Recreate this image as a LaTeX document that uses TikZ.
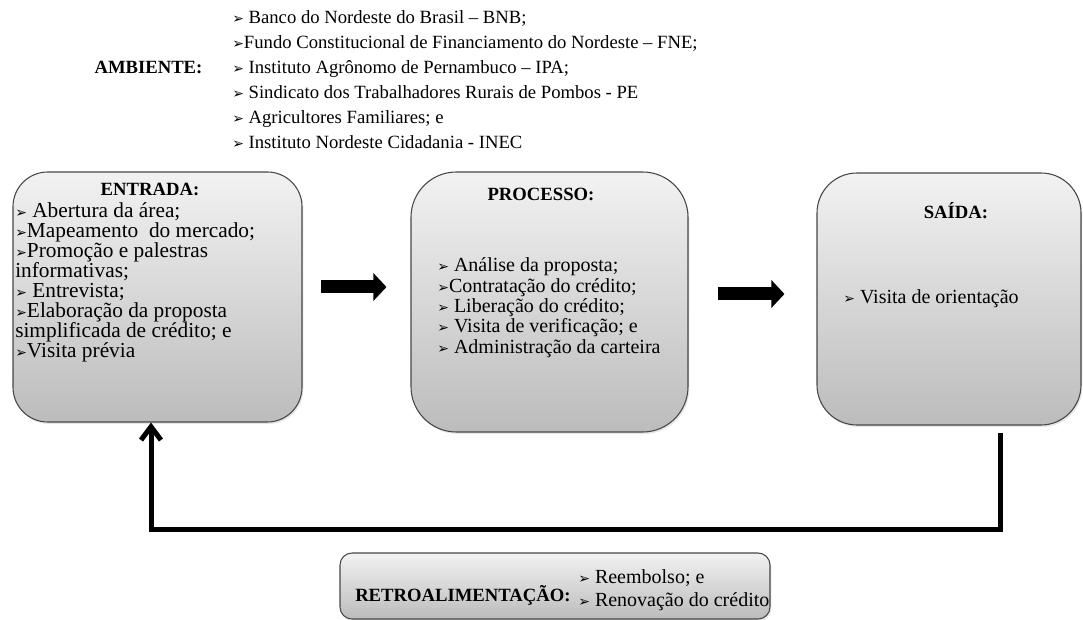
\documentclass[tikz,border=0pt]{standalone}
\usepackage{fontspec}
\setmainfont{Liberation Serif}
\newfontfamily\dejavu{DejaVu Sans}
\usetikzlibrary{arrows.meta,calc,positioning,shadows}

\definecolor{boxtop}{RGB}{242,242,242}
\definecolor{boxbot}{RGB}{188,188,188}
\definecolor{boxline}{RGB}{70,70,70}
\newcommand{\bul}{{\dejavu\fontsize{10.5pt}{10pt}\selectfont ➢}}

\begin{document}
\begin{tikzpicture}[x=0.75pt,y=-0.75pt,
  stagebox/.style={draw=boxline, line width=0.8pt, top color=boxtop, bottom color=boxbot,
    inner sep=0pt, drop shadow={opacity=0.2, shadow xshift=1pt, shadow yshift=-1.5pt}},
  stagetitle/.style={font=\fontsize{14pt}{16pt}\selectfont\bfseries, inner sep=0pt, anchor=base},
  stageitem/.style={font=\fontsize{15pt}{15pt}\selectfont, inner sep=0pt, anchor=base west},
  envitem/.style={font=\fontsize{14pt}{16pt}\selectfont, inner sep=0pt, anchor=base west},
  blockarrow/.style={line width=9.75pt, -{Triangle[length=9.75pt,width=20.25pt]}},
  feedback/.style={line width=3.75pt, -{Straight Barb[length=10pt,width=15pt]}}]

\useasboundingbox (0,0) rectangle (1083,620);

% ambiente
\foreach \t [count=\i from 0] in {%
  \bul\ Banco do Nordeste do Brasil -- BNB;,
  \bul Fundo Constitucional de Financiamento do Nordeste -- FNE;,
  \bul\ Instituto Agrônomo de Pernambuco -- IPA;,
  \bul\ Sindicato dos Trabalhadores Rurais de Pombos - PE,
  \bul\ Agricultores Familiares; e,
  \bul\ Instituto Nordeste Cidadania - INEC}
  \node[envitem] (a\i) at (232,24+25*\i) {\t};
\node[stagetitle, anchor=base east] (amb) at (a2.base west) [xshift=-22pt] {AMBIENTE:};

% the three stages
\node[stagebox, rounded corners=26pt, minimum width=216.75pt, minimum height=187.5pt] (entrada) at (157.5,297) {};
\node[stagebox, rounded corners=34pt, minimum width=207.75pt, minimum height=195pt] (processo) at (549.5,302) {};
\node[stagebox, rounded corners=30pt, minimum width=198pt, minimum height=189pt] (saida) at (949,299) {};

\node[stagetitle] (entradaT) at (150,196) {ENTRADA:};
\foreach \t [count=\i from 0] in {%
  \bul\ Abertura da área;,
  \bul Mapeamento\ \ do mercado;,
  \bul Promoção e palestras,
  informativas;,
  \bul\ Entrevista;,
  \bul Elaboração da proposta,
  simplificada de crédito; e,
  \bul Visita prévia}
  \node[stageitem, font=\fontsize{16pt}{16pt}\selectfont] (e\i) at (15,218+20*\i) {\t};

\node[stagetitle] (processoT) at (541,201) {PROCESSO:};
\foreach \t [count=\i from 0] in {%
  \bul\ Análise da proposta;,
  \bul Contratação do crédito;,
  \bul\ Liberação do crédito;,
  \bul\ Visita de verificação; e,
  \bul\ Administração da carteira}
  \node[stageitem] (p\i) at (437,272+20.3*\i) {\t};

\node[stagetitle] (saidaT) at (956,219) {SAÍDA:};
\node[stageitem] (s0) at (843,304) {\bul\ Visita de orientação};

% arrows between stages
\draw[blockarrow] ($(entrada.east)+(18,-10)$) -- ($(processo.west)+(-24,-15)$);
\draw[blockarrow] ($(processo.east)+(29,-8)$) -- ($(saida.west)+(-32,-5)$);

% feedback loop
\coordinate (fbR) at (1000,433);
\coordinate (fbL) at (151,530);
\draw[feedback] (fbR) |- (fbL) -- (fbL |- entrada.south);

% retroalimentacao
\node[stagebox, rounded corners=9pt, minimum width=322.5pt, minimum height=49.5pt] (retro) at (555,586) {};
\node[stagetitle, anchor=base west] (retroT) at (355,601) {RETROALIMENTAÇÃO:};
\node[stageitem] (r0) at (578,584) {\bul\ Reembolso; e};
\node[stageitem] (r1) at (578,606) {\bul\ Renovação do crédito};
\end{tikzpicture}
\end{document}
